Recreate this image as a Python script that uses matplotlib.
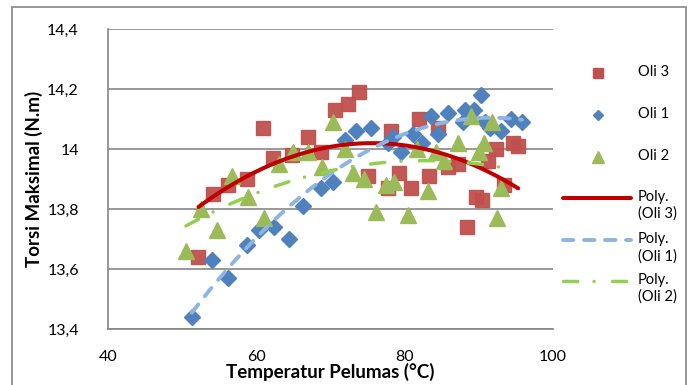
import numpy as np
import matplotlib
matplotlib.use("Agg")
import matplotlib.pyplot as plt
from matplotlib.lines import Line2D
from matplotlib.patches import Rectangle
from matplotlib.ticker import FuncFormatter, MultipleLocator

plt.rcParams["font.family"] = ["Lato", "DejaVu Sans"]

# Oli 3 (red squares)
temp_oli3 = [52.2, 54.2, 56.2, 58.7, 60.9, 62.3, 64.8, 66.9, 68.7, 70.6,
             72.3, 73.9, 75.1, 77.8, 78.2, 79.3, 80.8, 81.9, 83.3, 84.5,
             85.8, 87.2, 88.4, 89.6, 90.4, 91.3, 92.3, 93.4, 94.6, 95.3]
torsi_oli3 = [13.64, 13.85, 13.88, 13.90, 14.07, 13.97, 13.98, 14.04, 13.99, 14.13,
              14.15, 14.19, 13.91, 13.87, 14.06, 13.92, 13.87, 14.10, 13.91, 14.07,
              13.94, 13.95, 13.74, 13.84, 13.83, 13.96, 14.00, 13.88, 14.02, 14.01]

# Oli 1 (blue diamonds)
temp_oli1 = [51.3, 54.0, 56.2, 58.7, 60.4, 62.4, 64.4, 66.3, 68.7, 70.4,
             72.0, 73.5, 75.4, 77.7, 78.4, 79.5, 81.1, 82.3, 83.5, 84.5,
             85.9, 87.8, 88.2, 89.3, 90.3, 90.8, 91.5, 93.0, 94.3, 95.8]
torsi_oli1 = [13.44, 13.63, 13.57, 13.68, 13.73, 13.74, 13.70, 13.81, 13.87, 13.89,
              14.03, 14.06, 14.07, 14.02, 14.04, 13.99, 14.05, 14.02, 14.11, 14.05,
              14.12, 14.09, 14.13, 14.13, 14.18, 14.09, 14.07, 14.06, 14.10, 14.09]

# Oli 2 (green triangles)
temp_oli2 = [50.5, 52.6, 54.7, 56.7, 58.9, 61.0, 63.0, 64.9, 67.0, 68.8,
             70.4, 71.9, 73.1, 74.5, 76.1, 77.5, 78.6, 80.4, 81.6, 83.1,
             84.2, 85.3, 87.2, 88.9, 90.0, 90.7, 91.8, 92.5, 93.0]
torsi_oli2 = [13.66, 13.80, 13.73, 13.91, 13.84, 13.77, 13.95, 13.99, 13.99, 13.94,
              14.09, 14.00, 13.92, 13.90, 13.79, 13.88, 13.89, 13.78, 14.00, 13.86,
              13.99, 13.96, 14.02, 14.11, 13.99, 14.02, 14.09, 13.77, 13.87]

fig = plt.figure(figsize=(6.91, 3.85), dpi=100)
W, H = 691, 385
ax = fig.add_axes([108 / W, 1 - 329 / H, 445 / W, 299.7 / H])

ax.plot(temp_oli3, torsi_oli3, "s", color="#C0504D", ms=10.5, mec="#C0504D", alpha=0.95, zorder=3)
ax.plot(temp_oli1, torsi_oli1, "D", color="#4F81BD", ms=7.8, mec="#4F81BD", zorder=3)
ax.plot(temp_oli2, torsi_oli2, "^", color="#9BBB59", ms=11, mec="#9BBB59", zorder=3)


def trend(x, y):
    c = np.polyfit(x, y, 2)
    xs = np.linspace(min(x), max(x), 200)
    return xs, np.polyval(c, xs)


red_style = dict(color="#C00000", lw=2.9, solid_capstyle="round")
blue_style = dict(color="#8EB4E3", lw=2.8, ls=(0, (2.7, 2.7)), dash_capstyle="round")
green_style = dict(color="#92D050", lw=2.5, ls=(0, (4.1, 4.7, 0.01, 5.3)), dash_capstyle="round")

ax.plot(*trend(temp_oli3, torsi_oli3), zorder=4, **red_style)
ax.plot(*trend(temp_oli1, torsi_oli1), zorder=4, **blue_style)
ax.plot(*trend(temp_oli2, torsi_oli2), zorder=4, **green_style)

ax.set_xlim(40, 100)
ax.set_ylim(13.4, 14.4)
ax.xaxis.set_major_locator(MultipleLocator(20))
ax.yaxis.set_major_locator(MultipleLocator(0.2))
comma = FuncFormatter(lambda v, p: f"{v:.10g}".replace(".", ","))
ax.xaxis.set_major_formatter(comma)
ax.yaxis.set_major_formatter(comma)
ax.tick_params(length=0, labelsize=11.5)
ax.tick_params(axis="x", pad=15)
ax.tick_params(axis="y", pad=21)
ax.yaxis.grid(True, color="#868686", lw=1.2)
ax.set_axisbelow(True)
for s in ("top", "right"):
    ax.spines[s].set_visible(False)
for s in ("left", "bottom"):
    ax.spines[s].set_color("#868686")
    ax.spines[s].set_linewidth(1.2)

ax.set_xlabel("Temperatur Pelumas (°C)", fontsize=13.5, fontweight="bold", labelpad=-1)
ax.set_ylabel("Torsi Maksimal (N.m)", fontsize=13.5, fontweight="bold", labelpad=3)

# chart border (bottom edge falls outside the picture)
fig.add_artist(Rectangle((12 / W, -5 / H), 674 / W, 383 / H, transform=fig.transFigure,
                         fill=False, ec="#868686", lw=1.2))

# legend drawn beside the plot
entries = [
    (dict(marker="s", color="#C0504D", ms=7, ls="none"), "Oli 3", 73.3),
    (dict(marker="D", color="#4F81BD", ms=5.5, ls="none"), "Oli 1", 115.3),
    (dict(marker="^", color="#9BBB59", ms=8, ls="none"), "Oli 2", 157.3),
    (red_style, "Poly.\n(Oli 3)", 197.7),
    (blue_style, "Poly.\n(Oli 1)", 240.3),
    (green_style, "Poly.\n(Oli 2)", 280.7),
]
for style, label, yp in entries:
    yf = 1 - yp / H
    if "marker" in style:
        fig.add_artist(Line2D([597.7 / W], [yf], transform=fig.transFigure, **style))
    else:
        fig.add_artist(Line2D([563 / W, 631 / W], [yf, yf], transform=fig.transFigure, **style))
    fig.text(638 / W, yf + 8 / H, label, fontsize=10.5, va="top", ha="left", linespacing=1.25)

fig.savefig("out.png", dpi=100)
